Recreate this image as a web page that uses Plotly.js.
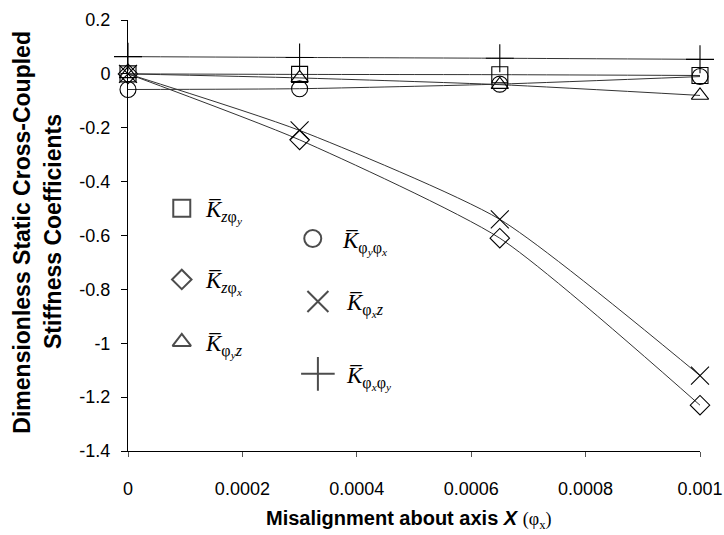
<!DOCTYPE html>
<html><head><meta charset="utf-8">
<script src="https://cdn.plot.ly/plotly-3.0.1.min.js"></script>
<style>body{margin:0;background:#fff}</style>
</head><body><div id="chart" style="width:724px;height:535px"></div>
<script>
// Misalignment about X (rad)
const misalign = [0, 0.0003, 0.00065, 0.001];
// Dimensionless static cross-coupled stiffness coefficients
const K_z_phiy     = [0, -0.002, -0.003, -0.006];
const K_z_phix     = [0, -0.245, -0.61, -1.23];
const K_phiy_z     = [0, -0.015, -0.04, -0.08];
const K_phiy_phix  = [-0.058, -0.055, -0.038, -0.01];
const K_phix_z     = [0, -0.21, -0.54, -1.12];
const K_phix_phiy  = [0.064, 0.061, 0.058, 0.054];
// axis ticks
const xTickVals = [0, 0.0002, 0.0004, 0.0006, 0.0008, 0.001];
const xTickText = ['0', '0.0002', '0.0004', '0.0006', '0.0008', '0.001'];
const yTickVals = [0.2, 0, -0.2, -0.4, -0.6, -0.8, -1, -1.2, -1.4];
const yTickText = ['0.2', '0', '-0.2', '-0.4', '-0.6', '-0.8', '-1', '-1.2', '-1.4'];

const seriesNames = ['K_zφy','K_zφx','K_φyz','K_φyφx','K_φxz','K_φxφy'];
const seriesData = [K_z_phiy, K_z_phix, K_phiy_z, K_phiy_phix, K_phix_z, K_phix_phiy];
const symbols = ['square-open','diamond-open','triangle-up-open','circle-open','x-thin-open','cross-thin-open'];
const sizes = [16, 15, 15, 16, 18, 20];

const traces = seriesData.map((ys, i) => ({
  x: misalign, y: ys, type: 'scatter', mode: 'lines+markers', name: seriesNames[i],
  line: {color: '#333', width: 1, shape: 'spline', smoothing: 0.6},
  marker: {symbol: symbols[i], size: sizes[i], color: '#000', line: {color: '#000', width: 1.1}},
  cliponaxis: false, showlegend: false
}));

// in-plot key: marker positions as fractions of plot area
const keyX = [0.094, 0.094, 0.094, 0.323, 0.332, 0.332];
const keyY = [0.563, 0.398, 0.253, 0.493, 0.347, 0.179];
const keyOff = [0.037, 0.037, 0.037, 0.047, 0.045, 0.045];
const keySizes = [17, 15, 16, 17, 21, 24];
const keyLabels = [
  '<i>K̅</i><sub><i>z</i>φ<sub><i>y</i></sub></sub>',
  '<i>K̅</i><sub><i>z</i>φ<sub><i>x</i></sub></sub>',
  '<i>K̅</i><sub>φ<sub><i>y</i></sub><i>z</i></sub>',
  '<i>K̅</i><sub>φ<sub><i>y</i></sub>φ<sub><i>x</i></sub></sub>',
  '<i>K̅</i><sub>φ<sub><i>x</i></sub><i>z</i></sub>',
  '<i>K̅</i><sub>φ<sub><i>x</i></sub>φ<sub><i>y</i></sub></sub>'
];
traces.push({
  x: keyX, y: keyY, xaxis: 'x2', yaxis: 'y2', type: 'scatter', mode: 'markers',
  marker: {symbol: symbols, size: keySizes, color: '#000', line: {color: '#000', width: 2}},
  showlegend: false, hoverinfo: 'skip', cliponaxis: false
});

const annotations = keyLabels.map((t, i) => ({
  xref: 'x2', yref: 'y2', x: keyX[i] + keyOff[i], y: keyY[i], xanchor: 'left', yanchor: 'middle', yshift: -4,
  text: t, showarrow: false, font: {family: 'Liberation Serif, Times New Roman, serif', size: 23, color: '#000'}
}));
// axis titles
annotations.push({
  xref: 'paper', yref: 'paper', x: 0.49, y: -0.160, xanchor: 'center', yanchor: 'middle', showarrow: false,
  text: '<b>Misalignment about axis <i>X</i></b> <span style="font-family:Liberation Serif;font-size:18px">(φ<sub>x</sub>)</span>',
  font: {family: 'Liberation Sans, Arial, sans-serif', size: 20, color: '#000'}
});
annotations.push({
  xref: 'paper', yref: 'paper', x: -0.186, y: 0.508, xanchor: 'center', yanchor: 'middle', showarrow: false,
  textangle: -90, text: '<b>Dimensionless Static Cross-Coupled</b>',
  font: {family: 'Liberation Sans, Arial, sans-serif', size: 23, color: '#000'}
});
annotations.push({
  xref: 'paper', yref: 'paper', x: -0.131, y: 0.508, xanchor: 'center', yanchor: 'middle', showarrow: false,
  textangle: -90, text: '<b>Stiffness Coefficients</b>',
  font: {family: 'Liberation Sans, Arial, sans-serif', size: 23, color: '#000'}
});

const layout = {
  width: 724, height: 535,
  margin: {l: 128, r: 24, t: 20, b: 84},
  paper_bgcolor: '#fff', plot_bgcolor: '#fff',
  font: {family: 'Liberation Sans, Arial, sans-serif', size: 18, color: '#000'},
  xaxis: {
    range: [0, 0.001], showgrid: false, zeroline: false, showline: true, linecolor: '#000', linewidth: 1,
    ticks: 'outside', ticklen: 5, tickcolor: '#555',
    tickvals: xTickVals, ticktext: xTickText,
    ticklabelstandoff: 16, ticklabeloverflow: 'allow'
  },
  yaxis: {
    range: [-1.4, 0.2], showgrid: false, zeroline: false, showline: true, linecolor: '#000', linewidth: 1,
    ticks: 'outside', ticklen: 6, tickcolor: '#000', ticklabelstandoff: 7,
    tickvals: yTickVals, ticktext: yTickText
  },
  xaxis2: {overlaying: 'x', range: [0, 1], visible: false, fixedrange: true},
  yaxis2: {overlaying: 'y', range: [0, 1], visible: false, fixedrange: true},
  annotations: annotations,
  showlegend: false
};

Plotly.newPlot('chart', traces, layout, {displayModeBar: false, staticPlot: true});
</script></body></html>
